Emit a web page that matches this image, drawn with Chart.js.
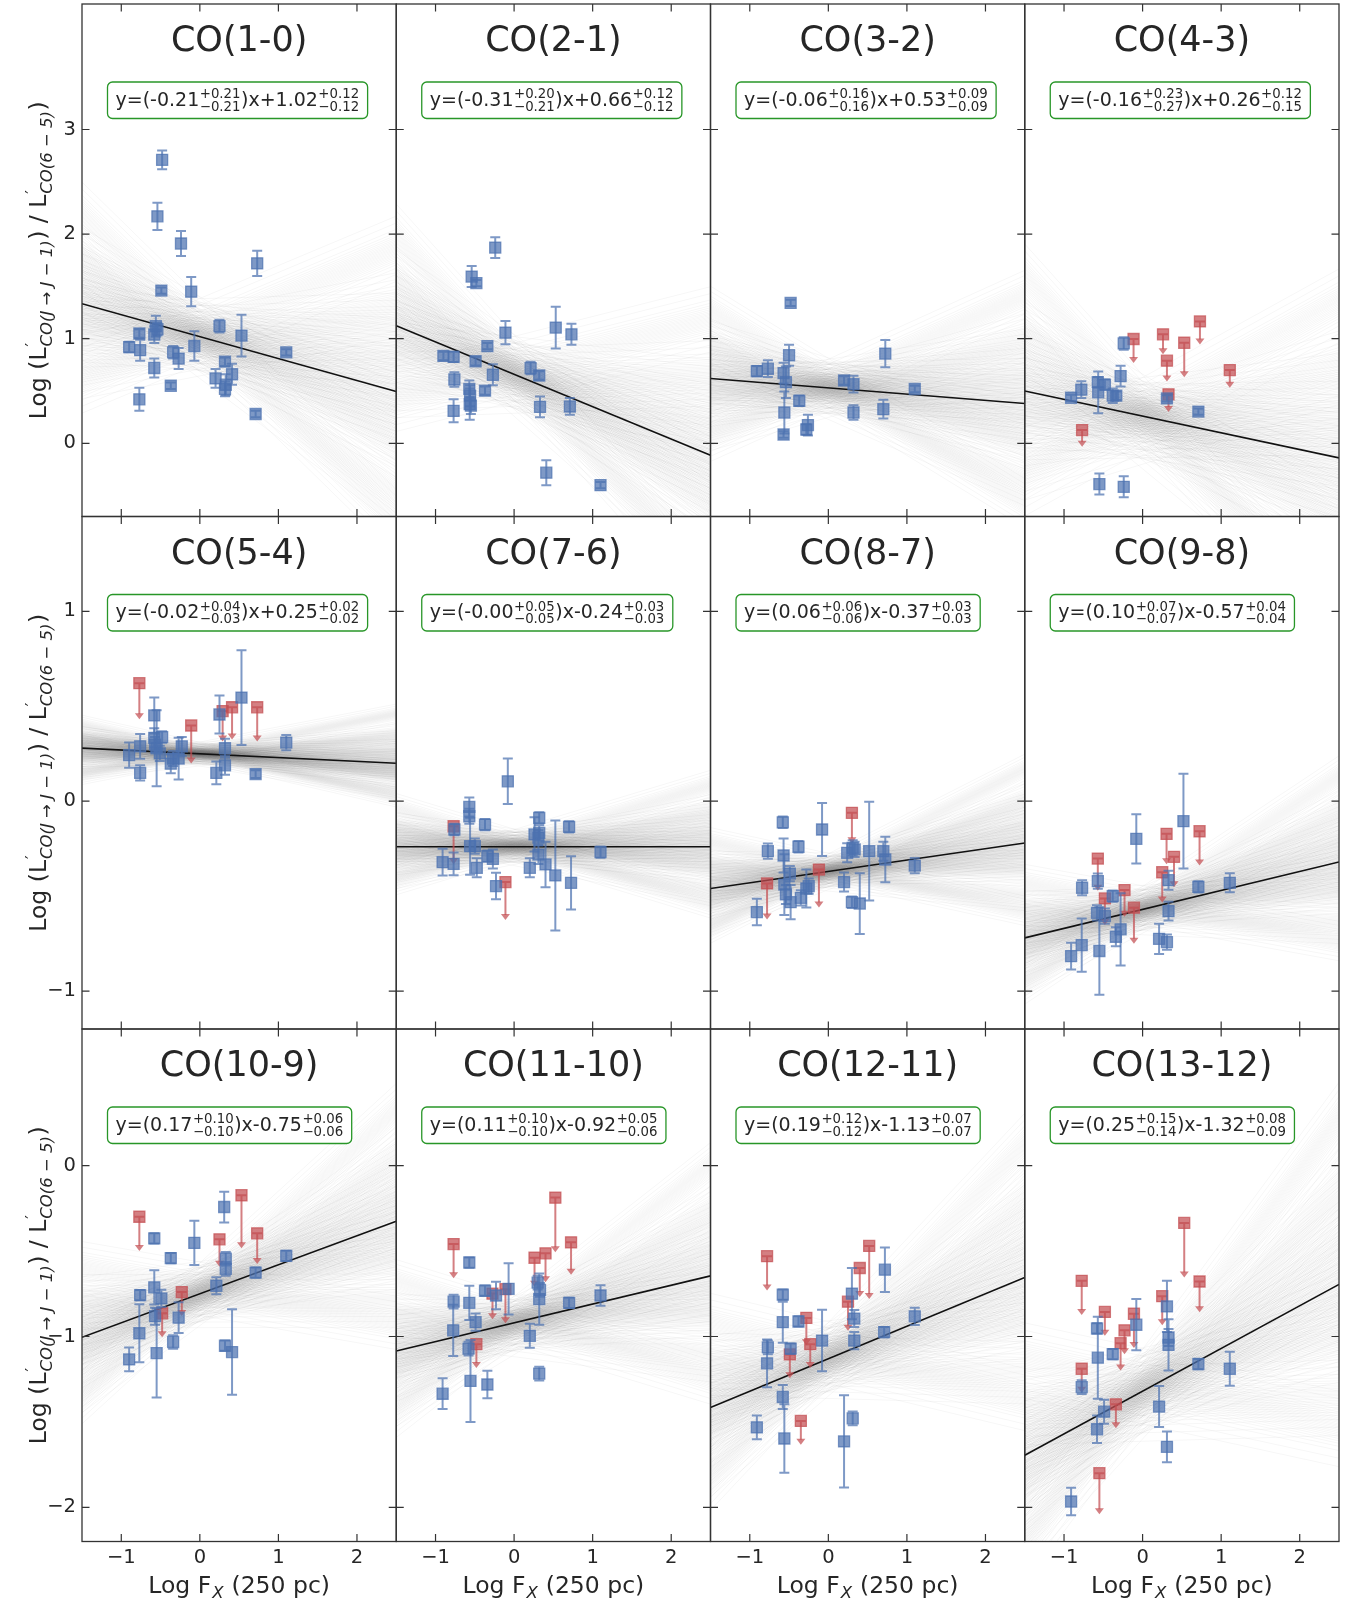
<!DOCTYPE html>
<html><head><meta charset="utf-8">
<script src="https://cdn.jsdelivr.net/npm/chart.js@4.4.0/dist/chart.umd.min.js"></script>
<style>
html,body{margin:0;padding:0;background:#fff;}
body{width:1351px;height:1601px;position:relative;overflow:hidden;}
canvas{position:absolute;}
</style></head><body>
<script>
// ---------------- DATA ----------------
const titles = ['CO(1-0)','CO(2-1)','CO(3-2)','CO(4-3)','CO(5-4)','CO(7-6)','CO(8-7)','CO(9-8)','CO(10-9)','CO(11-10)','CO(12-11)','CO(13-12)'];
const slopeTxt = ['-0.21','-0.31','-0.06','-0.16','-0.02','-0.00','0.06','0.10','0.17','0.11','0.19','0.25'];
const slopeUp  = ['0.21','0.20','0.16','0.23','0.04','0.05','0.06','0.07','0.10','0.10','0.12','0.15'];
const slopeLo  = ['0.21','0.21','0.16','0.27','0.03','0.05','0.06','0.07','0.10','0.10','0.12','0.14'];
const icptTxt  = ['+1.02','+0.66','+0.53','+0.26','+0.25','-0.24','-0.37','-0.57','-0.75','-0.92','-1.13','-1.32'];
const icptUp   = ['0.12','0.12','0.09','0.12','0.02','0.03','0.03','0.04','0.06','0.05','0.07','0.08'];
const icptLo   = ['0.12','0.12','0.09','0.15','0.02','0.03','0.03','0.04','0.06','0.06','0.07','0.09'];
const xTicks = [-1, 0, 1, 2];
const xRange = [-1.5, 2.5];
const rowYMin = [-0.7, -1.2, -2.2];
const rowYMax = [4.2, 1.5, 0.8];
const rowYTicks = [[0,1,2,3],[-1,0,1],[-2,-1,0]];
// sigma offsets (and pivot positions) used to sketch the posterior fan of fitted lines
const fanZSlope = [-2.5,-1.69,-1.10,-0.75,-0.47,-0.23,0,0.23,0.47,0.75,1.10,1.69,2.5];
const fanPivot  = [0.12,-0.25,0.3,-0.05,0.2,-0.3,0,0.27,-0.15,0.05,-0.22,0.18,-0.1];
const fanZIcpt  = [-2.6,-2.05,-1.55,-1.28,-1.08,-0.92,-0.77,-0.64,-0.52,-0.41,-0.31,-0.20,-0.10,0,0.10,0.20,0.31,0.41,0.52,0.64,0.77,0.92,1.08,1.28,1.55,2.05,2.6];

// detections: [logFx, ratio, error]; upper limits: [logFx, limit, arrow length]
const det_10 = [[-0.90,0.92,0.05],[-0.77,1.05,0.04],[-0.76,0.89,0.1],[-0.77,0.42,0.11],[-0.58,0.72,0.09],[-0.58,1.04,0.08],[-0.56,1.12,0.1],[-0.54,1.09,0.06],[-0.54,2.17,0.13],[-0.48,2.71,0.09],[-0.49,1.46,0.03],[-0.37,0.55,0.03],[-0.34,0.87,0.06],[-0.27,0.81,0.1],[-0.24,1.91,0.12],[-0.11,1.45,0.14],[-0.07,0.93,0.14],[0.25,1.12,0.06],[0.20,0.62,0.09],[0.32,0.78,0.04],[0.33,0.56,0.1],[0.32,0.52,0.07],[0.41,0.66,0.1],[0.53,1.03,0.2],[0.71,0.28,0.03],[0.73,1.72,0.12],[1.10,0.87,0.03]];
const ul_10 = [];
const det_21 = [[-0.90,0.835,0.04],[-0.77,0.826,0.05],[-0.76,0.61,0.07],[-0.77,0.31,0.11],[-0.57,0.52,0.08],[-0.56,0.455,0.1],[-0.565,0.374,0.15],[-0.55,0.36,0.08],[-0.54,1.594,0.1],[-0.48,1.532,0.03],[-0.49,0.784,0.04],[-0.34,0.929,0.03],[-0.37,0.503,0.04],[-0.27,0.655,0.1],[-0.24,1.871,0.1],[-0.11,1.058,0.11],[0.21,0.719,0.06],[0.32,0.648,0.04],[0.33,0.348,0.1],[0.41,-0.281,0.12],[0.53,1.106,0.2],[0.71,0.352,0.08],[0.73,1.042,0.1],[1.10,-0.40,0.03]];
const ul_21 = [];
const det_32 = [[-0.91,0.69,0.05],[-0.77,0.713,0.08],[-0.57,0.671,0.1],[-0.54,0.584,0.15],[-0.56,0.294,0.2],[-0.57,0.084,0.03],[-0.50,0.842,0.1],[-0.48,1.342,0.03],[-0.37,0.406,0.05],[-0.26,0.174,0.1],[-0.28,0.132,0.05],[0.20,0.60,0.04],[0.32,0.565,0.08],[0.32,0.294,0.07],[0.725,0.858,0.13],[0.70,0.326,0.09],[1.10,0.519,0.03]];
const ul_32 = [];
const det_43 = [[-0.91,0.435,0.03],[-0.78,0.513,0.08],[-0.57,0.584,0.05],[-0.565,0.487,0.2],[-0.48,0.561,0.05],[-0.38,0.455,0.07],[-0.335,0.455,0.04],[-0.28,0.642,0.1],[-0.24,0.955,0.06],[0.31,0.429,0.03],[0.71,0.303,0.03],[-0.55,-0.39,0.1],[-0.24,-0.416,0.1]];
const ul_43 = [[-0.77,0.126,0.16],[-0.115,0.997,0.23],[0.26,1.042,0.19],[0.31,0.79,0.2],[0.33,0.468,0.17],[0.53,0.961,0.33],[0.73,1.165,0.22],[1.11,0.70,0.17]];
const det_54 = [[-0.90,0.243,0.066],[-0.76,0.289,0.065],[-0.76,0.149,0.04],[-0.58,0.452,0.095],[-0.58,0.334,0.05],[-0.57,0.298,0.04],[-0.55,0.279,0.2],[-0.48,0.338,0.03],[-0.51,0.252,0.04],[-0.37,0.198,0.05],[-0.34,0.225,0.04],[-0.27,0.225,0.11],[-0.23,0.289,0.05],[0.21,0.149,0.06],[0.25,0.457,0.1],[0.32,0.279,0.05],[0.32,0.189,0.05],[0.53,0.546,0.25],[0.71,0.143,0.02],[1.10,0.309,0.04]];
const ul_54 = [[-0.77,0.622,0.19],[-0.11,0.399,0.2],[0.29,0.475,0.16],[0.41,0.495,0.17],[0.73,0.495,0.18]];
const det_76 = [[-0.91,-0.321,0.07],[-0.77,-0.33,0.06],[-0.76,-0.149,0.03],[-0.57,-0.03,0.05],[-0.57,-0.079,0.04],[-0.56,-0.237,0.15],[-0.50,-0.237,0.04],[-0.475,-0.351,0.05],[-0.37,-0.123,0.03],[-0.34,-0.289,0.03],[-0.27,-0.304,0.05],[-0.23,-0.447,0.07],[-0.08,0.105,0.12],[0.20,-0.351,0.05],[0.26,-0.175,0.09],[0.32,-0.088,0.03],[0.32,-0.167,0.04],[0.31,-0.193,0.04],[0.31,-0.281,0.05],[0.40,-0.333,0.12],[0.525,-0.391,0.29],[0.70,-0.135,0.03],[0.725,-0.43,0.14],[1.10,-0.268,0.03]];
const ul_76 = [[-0.77,-0.132,0.2],[-0.11,-0.426,0.2]];
const det_87 = [[-0.91,-0.584,0.07],[-0.77,-0.263,0.04],[-0.58,-0.111,0.03],[-0.57,-0.286,0.09],[-0.56,-0.439,0.16],[-0.54,-0.491,0.05],[-0.49,-0.381,0.04],[-0.48,-0.532,0.09],[-0.38,-0.24,0.03],[-0.35,-0.509,0.04],[-0.28,-0.46,0.1],[-0.25,-0.447,0.04],[-0.08,-0.149,0.14],[0.20,-0.426,0.05],[0.24,-0.272,0.05],[0.31,-0.246,0.04],[0.335,-0.254,0.04],[0.30,-0.532,0.03],[0.40,-0.539,0.16],[0.52,-0.263,0.26],[0.70,-0.263,0.05],[0.725,-0.307,0.12],[1.10,-0.339,0.04]];
const ul_87 = [[-0.78,-0.433,0.19],[-0.12,-0.36,0.2],[0.30,-0.061,0.16]];
const det_98 = [[-0.91,-0.816,0.07],[-0.775,-0.758,0.14],[-0.77,-0.456,0.04],[-0.57,-0.421,0.04],[-0.58,-0.588,0.04],[-0.55,-0.789,0.23],[-0.48,-0.605,0.04],[-0.38,-0.50,0.03],[-0.34,-0.714,0.05],[-0.28,-0.675,0.19],[-0.08,-0.198,0.13],[0.21,-0.725,0.08],[0.31,-0.742,0.04],[0.33,-0.416,0.05],[0.33,-0.579,0.05],[0.52,-0.105,0.25],[0.71,-0.451,0.03],[1.11,-0.43,0.05]];
const ul_98 = [[-0.57,-0.302,0.17],[-0.48,-0.512,0.14],[-0.23,-0.468,0.14],[-0.11,-0.561,0.19],[0.25,-0.374,0.16],[0.305,-0.172,0.16],[0.40,-0.293,0.16],[0.725,-0.158,0.18]];
const det_109 = [[-0.90,-1.134,0.07],[-0.76,-0.758,0.03],[-0.77,-0.981,0.17],[-0.58,-0.426,0.03],[-0.58,-0.712,0.1],[-0.57,-0.881,0.05],[-0.55,-1.097,0.26],[-0.49,-0.777,0.05],[-0.37,-0.541,0.03],[-0.34,-1.032,0.04],[-0.27,-0.89,0.09],[-0.07,-0.452,0.13],[0.21,-0.703,0.05],[0.31,-0.242,0.09],[0.33,-0.545,0.04],[0.33,-0.604,0.04],[0.32,-1.054,0.03],[0.41,-1.091,0.25],[0.71,-0.626,0.03],[1.10,-0.528,0.03]];
const ul_109 = [[-0.77,-0.299,0.2],[-0.48,-0.864,0.14],[-0.23,-0.74,0.14],[0.25,-0.431,0.16],[0.53,-0.173,0.31],[0.73,-0.396,0.18]];
const det_1110 = [[-0.91,-1.335,0.09],[-0.77,-0.796,0.04],[-0.775,-0.964,0.15],[-0.57,-0.567,0.03],[-0.57,-0.803,0.1],[-0.58,-1.071,0.04],[-0.555,-1.26,0.24],[-0.49,-0.916,0.05],[-0.37,-0.732,0.03],[-0.34,-1.281,0.08],[-0.23,-0.76,0.08],[-0.07,-0.721,0.15],[0.20,-0.996,0.07],[0.30,-0.685,0.04],[0.33,-0.727,0.04],[0.32,-0.781,0.15],[0.32,-1.217,0.04],[0.70,-0.803,0.03],[1.10,-0.76,0.06]];
const ul_1110 = [[-0.77,-0.459,0.2],[-0.48,-1.045,0.14],[-0.275,-0.749,0.15],[-0.11,-0.723,0.2],[0.26,-0.539,0.17],[0.40,-0.513,0.17],[0.525,-0.187,0.32],[0.725,-0.449,0.19]];
const det_1211 = [[-0.91,-1.532,0.07],[-0.77,-1.064,0.04],[-0.78,-1.157,0.14],[-0.58,-0.755,0.03],[-0.58,-0.916,0.12],[-0.58,-1.354,0.07],[-0.56,-1.597,0.2],[-0.48,-1.071,0.03],[-0.38,-0.912,0.03],[-0.08,-1.024,0.18],[0.20,-1.614,0.27],[0.30,-0.749,0.15],[0.33,-0.895,0.05],[0.33,-1.024,0.05],[0.31,-1.479,0.04],[0.72,-0.609,0.13],[0.71,-0.974,0.03],[1.10,-0.882,0.05]];
const ul_1211 = [[-0.78,-0.53,0.2],[-0.49,-1.105,0.14],[-0.35,-1.494,0.14],[-0.28,-0.891,0.16],[-0.23,-1.045,0.14],[0.25,-0.796,0.17],[0.40,-0.599,0.17],[0.52,-0.47,0.31]];
const det_1312 = [[-0.91,-1.966,0.08],[-0.775,-1.296,0.04],[-0.58,-0.953,0.03],[-0.57,-1.124,0.24],[-0.58,-1.543,0.08],[-0.49,-1.44,0.07],[-0.38,-1.103,0.03],[-0.08,-0.931,0.15],[0.21,-1.41,0.12],[0.31,-0.824,0.15],[0.33,-1.006,0.05],[0.33,-1.049,0.15],[0.31,-1.646,0.09],[0.71,-1.161,0.03],[1.11,-1.189,0.1]];
const ul_1312 = [[-0.775,-0.674,0.2],[-0.775,-1.189,0.14],[-0.55,-1.80,0.24],[-0.48,-0.856,0.14],[-0.34,-1.397,0.14],[-0.28,-1.039,0.16],[-0.23,-0.964,0.14],[-0.11,-0.867,0.2],[0.25,-0.764,0.17],[0.53,-0.335,0.32],[0.725,-0.678,0.18]];

const panelDet = [det_10, det_21, det_32, det_43, det_54, det_76, det_87, det_98, det_109, det_1110, det_1211, det_1312];
const panelUl  = [ul_10, ul_21, ul_32, ul_43, ul_54, ul_76, ul_87, ul_98, ul_109, ul_1110, ul_1211, ul_1312];

// ---------------- STYLE / LAYOUT ----------------
const FONT = "'DejaVu Sans', sans-serif";
const TXT = '#262626';
const BLUE = 'rgba(76,114,176,0.72)';
const RED = 'rgba(196,78,82,0.72)';
const FAN = 'rgba(40,40,40,0.035)';
const colLeft = [82, 396.25, 710.5, 1024.75];
const rowTop = [4, 516.5, 1029];
const PW = 314.25, PH = 512.5, M = 30;

function fmtTick(v){ return v < 0 ? '\u2212' + (-v) : String(v); }

function rrect(ctx, x, y, w, h, r){
  ctx.beginPath();
  ctx.moveTo(x+r, y); ctx.lineTo(x+w-r, y); ctx.arcTo(x+w, y, x+w, y+r, r);
  ctx.lineTo(x+w, y+h-r); ctx.arcTo(x+w, y+h, x+w-r, y+h, r);
  ctx.lineTo(x+r, y+h); ctx.arcTo(x, y+h, x, y+h-r, r);
  ctx.lineTo(x, y+r); ctx.arcTo(x, y, x+r, y, r); ctx.closePath();
}

function eqLayout(ctx, i, draw, x, base){
  const parts = [
    {t: 'y=(' + slopeTxt[i]},
    {sup: '+' + slopeUp[i], sub: '\u2212' + slopeLo[i]},
    {t: ')x' + icptTxt[i]},
    {sup: '+' + icptUp[i], sub: '\u2212' + icptLo[i]}
  ];
  let cx = x;
  parts.forEach(p => {
    if (p.t) {
      ctx.font = '19px ' + FONT;
      if (draw) ctx.fillText(p.t, cx, base);
      cx += ctx.measureText(p.t).width;
    } else {
      ctx.font = '13.3px ' + FONT;
      const w = Math.max(ctx.measureText(p.sup).width, ctx.measureText(p.sub).width);
      if (draw) { ctx.fillText(p.sup, cx + 0.5, base - 7.8); ctx.fillText(p.sub, cx + 0.5, base + 5); }
      cx += w + 1;
    }
  });
  return cx - x;
}

function drawRich(ctx, seq, F, S, draw){
  let cx = 0;
  seq.forEach(p => {
    if (p.t !== undefined) {
      ctx.font = F + 'px ' + FONT;
      if (draw) ctx.fillText(p.t, cx, 0);
      cx += ctx.measureText(p.t).width;
    } else {
      ctx.font = S + 'px ' + FONT;
      const ws = p.sup ? ctx.measureText(p.sup).width : 0;
      if (draw && p.sup) ctx.fillText(p.sup, cx + 1, -F*0.38);
      ctx.font = 'italic ' + S + 'px ' + FONT;
      const wb = p.sub ? ctx.measureText(p.sub).width : 0;
      if (draw && p.sub) ctx.fillText(p.sub, cx + 1, F*0.24);
      cx += Math.max(ws, wb) + 1.5;
    }
  });
  return cx;
}

const yTitleSeq = [{t:'Log (L'},{sup:'\u2032', sub:'CO(J \u2192 J \u2212 1)'},{t:') / L'},{sup:'\u2032', sub:'CO(6 \u2212 5)'},{t:')'}];
const xTitleSeq = [{t:'Log F'},{sub:'X'},{t:' (250 pc)'}];

const fanPlugin = {
  id: 'fan',
  beforeDatasetsDraw(chart){
    const i = chart.options.plugins.deco.idx;
    const ctx = chart.ctx, xs = chart.scales.x, ys = chart.scales.y, a = chart.chartArea;
    const m = Number(slopeTxt[i]), b = Number(icptTxt[i]);
    const su = Number(slopeUp[i]), sl = Number(slopeLo[i]), bu = Number(icptUp[i]), bl = Number(icptLo[i]);
    ctx.save();
    ctx.beginPath(); ctx.rect(a.left, a.top, a.right - a.left, a.bottom - a.top); ctx.clip();
    ctx.strokeStyle = FAN; ctx.lineWidth = 1;
    const x0 = xs.getPixelForValue(xRange[0]), x1 = xs.getPixelForValue(xRange[1]);
    fanZSlope.forEach((zs, k) => fanZIcpt.forEach(zb => {
      const dm = zs > 0 ? zs*su : zs*sl;
      const mm = m + dm;
      const bb = b + (zb > 0 ? zb*bu : zb*bl) - dm*fanPivot[k];
      ctx.beginPath();
      ctx.moveTo(x0, ys.getPixelForValue(bb + mm*xRange[0]));
      ctx.lineTo(x1, ys.getPixelForValue(bb + mm*xRange[1]));
      ctx.stroke();
    }));
    ctx.restore();
  }
};

const errPlugin = {
  id: 'errbars',
  beforeDatasetDraw(chart, args){
    const d = chart.data.datasets[args.index];
    if (!d.kind) return;
    const ctx = chart.ctx, xs = chart.scales.x, ys = chart.scales.y, a = chart.chartArea;
    ctx.save();
    ctx.beginPath(); ctx.rect(a.left, a.top, a.right - a.left, a.bottom - a.top); ctx.clip();
    ctx.strokeStyle = d.borderColor; ctx.fillStyle = d.borderColor; ctx.lineWidth = 2;
    d.src.forEach(([x, y, e]) => {
      const px = xs.getPixelForValue(x);
      if (d.kind === 'det') {
        const y1 = ys.getPixelForValue(y + e), y2 = ys.getPixelForValue(y - e);
        ctx.beginPath();
        ctx.moveTo(px, y1); ctx.lineTo(px, y2);
        ctx.moveTo(px - 5, y1); ctx.lineTo(px + 5, y1);
        ctx.moveTo(px - 5, y2); ctx.lineTo(px + 5, y2);
        ctx.stroke();
      } else {
        const y0 = ys.getPixelForValue(y), y2 = ys.getPixelForValue(y - e);
        ctx.beginPath();
        ctx.moveTo(px, y0); ctx.lineTo(px, y2 - 5);
        ctx.moveTo(px - 5, y0); ctx.lineTo(px + 5, y0);
        ctx.stroke();
        ctx.beginPath();
        ctx.moveTo(px - 4.5, y2 - 6); ctx.lineTo(px + 4.5, y2 - 6); ctx.lineTo(px, y2); ctx.closePath();
        ctx.fill();
      }
    });
    ctx.restore();
  }
};

const decoPlugin = {
  id: 'deco',
  afterDraw(chart){
    const o = chart.options.plugins.deco;
    const i = o.idx, r = Math.floor(i / 4), c = i % 4;
    const ctx = chart.ctx, a = chart.chartArea, xs = chart.scales.x, ys = chart.scales.y;
    ctx.save();
    ctx.strokeStyle = '#333'; ctx.lineWidth = 1.2;
    ctx.beginPath();
    xTicks.forEach(v => {
      const px = xs.getPixelForValue(v);
      ctx.moveTo(px, a.bottom); ctx.lineTo(px, a.bottom - 7.5);
      ctx.moveTo(px, a.top); ctx.lineTo(px, a.top + 7.5);
    });
    rowYTicks[r].forEach(v => {
      const py = ys.getPixelForValue(v);
      ctx.moveTo(a.left, py); ctx.lineTo(a.left + 7.5, py);
      ctx.moveTo(a.right, py); ctx.lineTo(a.right - 7.5, py);
    });
    ctx.stroke();
    ctx.lineWidth = 1.3;
    ctx.strokeRect(a.left, a.top, a.right - a.left, a.bottom - a.top);
    ctx.fillStyle = TXT;
    ctx.font = '35px ' + FONT; ctx.textAlign = 'center'; ctx.textBaseline = 'alphabetic';
    ctx.fillText(titles[i], (a.left + a.right) / 2, a.top + 47.4);
    ctx.textAlign = 'left';
    const w = eqLayout(ctx, i, false, 0, 0);
    const bx = a.left + 25.5, by = a.top + 78, bw = w + 16, bh = 36.5;
    rrect(ctx, bx, by, bw, bh, 5);
    ctx.fillStyle = '#fff'; ctx.fill();
    ctx.strokeStyle = 'rgb(40,150,40)'; ctx.lineWidth = 1.3; ctx.stroke();
    ctx.fillStyle = TXT;
    eqLayout(ctx, i, true, bx + 8, a.top + 101.8);
    if (c === 0) {
      ctx.save();
      ctx.translate(46.3, (a.top + a.bottom) / 2);
      ctx.rotate(-Math.PI / 2);
      const tw = drawRich(ctx, yTitleSeq, 23.5, 16.5, false);
      ctx.translate(-tw / 2, 0);
      drawRich(ctx, yTitleSeq, 23.5, 16.5, true);
      ctx.restore();
    }
    if (r === 2) {
      ctx.save();
      const tw = drawRich(ctx, xTitleSeq, 23.5, 16.5, false);
      ctx.translate((a.left + a.right) / 2 - tw / 2, 1592.5 - chart.canvas.offsetTop);
      drawRich(ctx, xTitleSeq, 23.5, 16.5, true);
      ctx.restore();
    }
    ctx.restore();
  }
};

titles.forEach((ttl, i) => {
  const r = Math.floor(i / 4), c = i % 4;
  const pl = colLeft[c], pt = rowTop[r], pr = pl + PW, pb = pt + PH;
  const isLeft = c === 0, isBottom = r === 2;
  const cl = isLeft ? 0 : Math.floor(pl - M);
  const ct = Math.floor(pt - M);
  const cr = Math.min(1351, Math.ceil(pr + M));
  const cb = isBottom ? 1601 : Math.ceil(pb + M);
  const yBox = isLeft ? pl - cl : 0;
  const xBox = isBottom ? cb - pb : 0;
  const pad = {left: isLeft ? 0 : pl - cl, top: pt - ct, right: cr - pr, bottom: isBottom ? 0 : cb - pb};
  const cv = document.createElement('canvas');
  cv.width = cr - cl; cv.height = cb - ct;
  cv.style.left = cl + 'px'; cv.style.top = ct + 'px';
  cv.style.width = (cr - cl) + 'px'; cv.style.height = (cb - ct) + 'px';
  document.body.appendChild(cv);

  const m = Number(slopeTxt[i]), b = Number(icptTxt[i]);
  const datasets = [
    {type:'scatter', kind:'det', src: panelDet[i], data: panelDet[i].map(d => ({x:d[0], y:d[1]})),
      pointStyle:'rect', pointRadius:7.8, backgroundColor:BLUE, borderColor:BLUE, borderWidth:1.3, order:0},
    {type:'scatter', kind:'ul', src: panelUl[i], data: panelUl[i].map(d => ({x:d[0], y:d[1]})),
      pointStyle:'rect', pointRadius:7.8, backgroundColor:RED, borderColor:RED, borderWidth:1.3, order:1},
    {type:'scatter', showLine:true, data:[{x:xRange[0], y:b + m*xRange[0]},{x:xRange[1], y:b + m*xRange[1]}],
      borderColor:'#111', borderWidth:1.6, pointRadius:0, order:2}
  ];

  new Chart(cv, {
    type:'scatter',
    data:{datasets},
    options:{
      responsive:false, animation:false, devicePixelRatio:1, events:[],
      layout:{padding:pad},
      plugins:{legend:{display:false}, tooltip:{enabled:false}, deco:{idx:i}},
      scales:{
        x:{type:'linear', min:xRange[0], max:xRange[1],
           grid:{display:false, drawTicks:false}, border:{display:false},
           afterBuildTicks: s => { s.ticks = xTicks.map(v => ({value:v})); },
           afterFit: s => { s.height = xBox; },
           ticks:{display:isBottom, padding:5, color:TXT, font:{family:FONT, size:19.5}, callback: v => fmtTick(v), maxRotation:0, autoSkip:false}},
        y:{type:'linear', min:rowYMin[r], max:rowYMax[r],
           grid:{display:false, drawTicks:false}, border:{display:false},
           afterBuildTicks: s => { s.ticks = rowYTicks[r].map(v => ({value:v})); },
           afterFit: s => { s.width = yBox; },
           ticks:{display:isLeft, padding:6, color:TXT, font:{family:FONT, size:19.5}, callback: v => fmtTick(v), autoSkip:false}}
      }
    },
    plugins:[fanPlugin, errPlugin, decoPlugin]
  });
});
</script>
</body></html>
